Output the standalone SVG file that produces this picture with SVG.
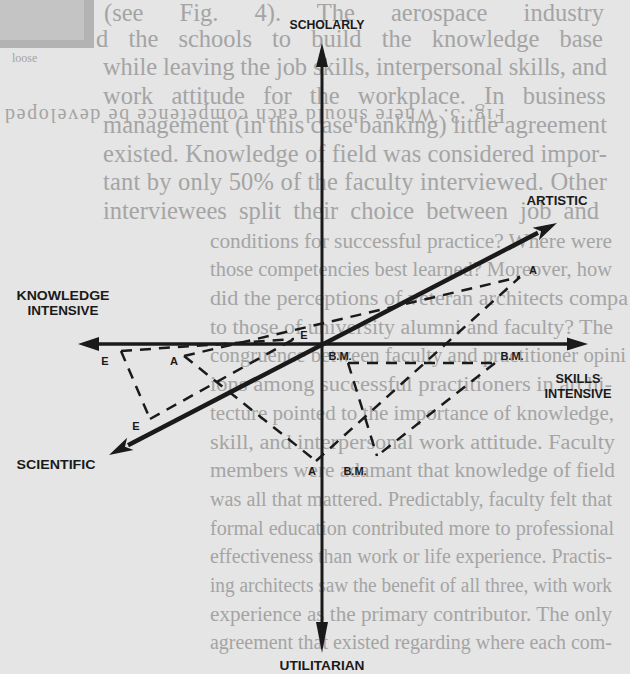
<svg xmlns="http://www.w3.org/2000/svg" width="630" height="674" viewBox="0 0 630 674">
<defs>
<style>
.pg{font-family:"Liberation Serif","Times New Roman",serif;fill:#a4a4a4}
.up{font-size:24.5px}
.lo{font-size:20px}
.ax{stroke:#1a1a1a;stroke-width:3.5;fill:none}
.hd{fill:#1a1a1a;stroke:none}
.d{stroke:#1a1a1a;stroke-width:2.5;stroke-dasharray:11 8;fill:none}
.lb{font-family:"Liberation Sans",Arial,sans-serif;font-weight:bold;font-size:13px;fill:#1a1a1a;text-anchor:middle}
.sm{font-family:"Liberation Sans",Arial,sans-serif;font-weight:bold;font-size:11px;fill:#1a1a1a;text-anchor:middle}
</style>
</defs>
<rect x="0" y="0" width="630" height="674" fill="#e5e5e5"/>
<g id="page-text">
<rect x="0" y="0" width="88" height="42" fill="#c4c4c4"/>
<rect x="84" y="0" width="10" height="48" fill="#b3b3b3"/>
<rect x="0" y="40" width="94" height="8" fill="#b3b3b3"/>
<text class="pg up" x="104" y="21" word-spacing="30">(see Fig. 4). The aerospace industry</text>
<text class="pg up" x="96" y="47" word-spacing="14">d the schools to build the knowledge base</text>
<text class="pg" x="12" y="62" font-size="12" fill="#9c9c9c">loose</text>
<text class="pg up" x="103" y="75.4" textLength="504" lengthAdjust="spacing">while leaving the job skills, interpersonal skills, and</text>
<text class="pg up" x="103" y="104.1" word-spacing="12">work attitude for the workplace. In business</text>
<text class="pg" x="5" y="121" font-size="20" textLength="500" lengthAdjust="spacing" transform="rotate(180 255 115)">Fig. 3. Where should each competence be developed</text>
<text class="pg up" x="103" y="132.8" textLength="504" lengthAdjust="spacing">management (in this case banking) little agreement</text>
<text class="pg up" x="103" y="161.5" textLength="504" lengthAdjust="spacing">existed. Knowledge of field was considered impor-</text>
<text class="pg up" x="103" y="190.2" textLength="504" lengthAdjust="spacing">tant by only 50% of the faculty interviewed. Other</text>
<text class="pg up" x="103" y="218.9" word-spacing="6">interviewees split their choice between job and</text>
<text class="pg lo" x="210" y="247.6" textLength="402" lengthAdjust="spacingAndGlyphs">conditions for successful practice? Where were</text>
<text class="pg lo" x="210" y="276.3" textLength="402" lengthAdjust="spacingAndGlyphs">those competencies best learned? Moreover, how</text>
<text class="pg lo" x="210" y="305" textLength="418" lengthAdjust="spacingAndGlyphs">did the perceptions of veteran architects compa</text>
<text class="pg lo" x="210" y="333.7" textLength="403" lengthAdjust="spacingAndGlyphs">to those of university alumni and faculty? The</text>
<text class="pg lo" x="210" y="362.4" textLength="416" lengthAdjust="spacingAndGlyphs">congruence between faculty and practitioner opini</text>
<text class="pg lo" x="210" y="391.1" textLength="402" lengthAdjust="spacingAndGlyphs">ions among successful practitioners in archi-</text>
<text class="pg lo" x="210" y="419.8" textLength="404" lengthAdjust="spacingAndGlyphs">tecture pointed to the importance of knowledge,</text>
<text class="pg lo" x="210" y="448.5" textLength="405" lengthAdjust="spacingAndGlyphs">skill, and interpersonal work attitude. Faculty</text>
<text class="pg lo" x="210" y="477.2" textLength="405" lengthAdjust="spacingAndGlyphs">members were adamant that knowledge of field</text>
<text class="pg lo" x="210" y="505.9" textLength="402" lengthAdjust="spacingAndGlyphs">was all that mattered. Predictably, faculty felt that</text>
<text class="pg lo" x="210" y="534.6" textLength="404" lengthAdjust="spacingAndGlyphs">formal education contributed more to professional</text>
<text class="pg lo" x="210" y="563.3" textLength="402" lengthAdjust="spacingAndGlyphs">effectiveness than work or life experience. Practis-</text>
<text class="pg lo" x="210" y="592" textLength="402" lengthAdjust="spacingAndGlyphs">ing architects saw the benefit of all three, with work</text>
<text class="pg lo" x="210" y="620.7" textLength="402" lengthAdjust="spacingAndGlyphs">experience as the primary contributor. The only</text>
<text class="pg lo" x="210" y="649.4" textLength="402" lengthAdjust="spacingAndGlyphs">agreement that existed regarding where each com-</text>
</g>
<g id="connectors">
<g id="axes">
<line class="ax" x1="322" y1="62" x2="322" y2="628" style="stroke-width:3"/>
<polygon class="hd" points="322,43 316,67 328,67"/>
<polygon class="hd" points="322,653 316,622 328,622"/>
<line class="ax" x1="94" y1="344" x2="572" y2="344"/>
<polygon class="hd" points="78,344 99,337 99,351"/>
<polygon class="hd" points="588,344 567,337.5 567,350.5"/>
<line class="ax" x1="128" y1="445.2" x2="538" y2="232.8" style="stroke-width:4.5"/>
<polygon class="hd" points="557,223 538.9,240.2 541,231.2 532.5,227.8"/>
<polygon class="hd" points="109,455 127.1,437.7 125,446.7 133.5,450.1"/>
</g>
<g id="profile-E">
<line class="d" x1="121" y1="351" x2="150" y2="419"/>
<line class="d" x1="150" y1="419" x2="294" y2="339"/>
<line class="d" x1="121" y1="351" x2="294" y2="339"/>
</g>
<g id="profile-A">
<line class="d" x1="184" y1="356" x2="520" y2="277"/>
<line class="d" x1="184" y1="356" x2="316" y2="461"/>
<line class="d" x1="316" y1="461" x2="520" y2="277"/>
</g>
<g id="profile-BM">
<line class="d" x1="348" y1="363" x2="495" y2="363"/>
<line class="d" x1="348" y1="363" x2="377" y2="456"/>
<line class="d" x1="495" y1="363" x2="377" y2="456"/>
</g>
</g>
<g id="label-scholarly"><text class="lb" x="327" y="29" textLength="75" lengthAdjust="spacingAndGlyphs">SCHOLARLY</text></g>
<g id="label-artistic"><text class="lb" x="557" y="205" textLength="61" lengthAdjust="spacingAndGlyphs">ARTISTIC</text></g>
<g id="label-knowledge"><text class="lb" x="63" y="300" textLength="93" lengthAdjust="spacingAndGlyphs">KNOWLEDGE</text><text class="lb" x="63" y="315" textLength="71" lengthAdjust="spacingAndGlyphs">INTENSIVE</text></g>
<g id="label-skills"><text class="lb" x="578" y="383" textLength="45" lengthAdjust="spacingAndGlyphs">SKILLS</text><text class="lb" x="578" y="398" textLength="67" lengthAdjust="spacingAndGlyphs">INTENSIVE</text></g>
<g id="label-scientific"><text class="lb" x="56" y="469" textLength="79" lengthAdjust="spacingAndGlyphs">SCIENTIFIC</text></g>
<g id="label-utilitarian"><text class="lb" x="322" y="670" textLength="85" lengthAdjust="spacingAndGlyphs">UTILITARIAN</text></g>
<g id="point-labels">
<text class="sm" x="105" y="365">E</text>
<text class="sm" x="174" y="365">A</text>
<text class="sm" x="136" y="430">E</text>
<text class="sm" x="304" y="339">E</text>
<text class="sm" x="533" y="274">A</text>
<text class="sm" x="340" y="360">B.M.</text>
<text class="sm" x="512" y="360">B.M.</text>
<text class="sm" x="312" y="475">A</text>
<text class="sm" x="355" y="475">B.M.</text>
</g>
</svg>
